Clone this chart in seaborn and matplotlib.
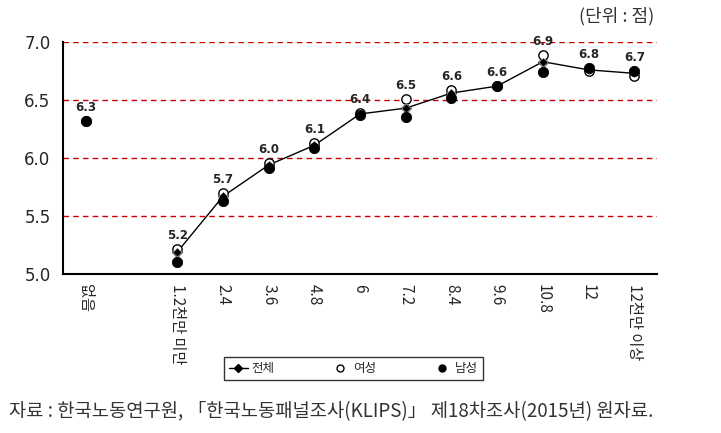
import matplotlib
matplotlib.use('Agg')
import matplotlib.pyplot as plt
import numpy as np
import pandas as pd
import seaborn as sns
from matplotlib.lines import Line2D

# categories (blank slot between '없음' and '1.2천만 미만')
categories = ['없음', '', '1.2천만 미만', '2.4', '3.6', '4.8', '6', '7.2',
              '8.4', '9.6', '10.8', '12', '12천만 이상']
total = [6.32, np.nan, 5.19, 5.67, 5.94, 6.11, 6.38, 6.43, 6.56, 6.62, 6.83, 6.76, 6.73]
women = [6.32, np.nan, 5.22, 5.70, 5.96, 6.13, 6.39, 6.51, 6.59, 6.62, 6.89, 6.75, 6.71]
men = [6.32, np.nan, 5.10, 5.63, 5.91, 6.09, 6.37, 6.35, 6.52, 6.62, 6.74, 6.78, 6.75]
labels = ['6.3', '', '5.2', '5.7', '6.0', '6.1', '6.4', '6.5', '6.6', '6.6', '6.9', '6.8', '6.7']
yticks = [5.0, 5.5, 6.0, 6.5, 7.0]

sns.set_style('white')
plt.rcParams['font.family'] = ['Noto Sans CJK KR', 'DejaVu Sans']
plt.rcParams['axes.unicode_minus'] = False

df = pd.DataFrame({'pos': np.arange(len(categories)), 'total': total,
                   'women': women, 'men': men})

fig = plt.figure(figsize=(7.21, 4.33), dpi=100)
ax = fig.add_axes([0.0874, 0.367, 0.824, 0.536])

# red dashed gridlines
for yv in yticks[1:]:
    ax.axhline(yv, color='#cc0000', lw=1, ls=(0, (4, 3)), zorder=0)

# total line only from 1.2 onwards (no connection across the blank slot)
sns.lineplot(data=df[df['pos'] >= 2], x='pos', y='total', ax=ax, color='black',
             lw=1, marker='D', markersize=5, markeredgecolor='black', zorder=3)
sns.scatterplot(data=df, x='pos', y='women', ax=ax, marker='o', s=45,
                facecolor='white', edgecolor='black', linewidth=1, zorder=4)
sns.scatterplot(data=df[df['pos'] != 0], x='pos', y='total', ax=ax, marker='D', s=22,
                color='black', zorder=5)
sns.scatterplot(data=df, x='pos', y='men', ax=ax, marker='o', s=55,
                color='black', edgecolor='black', zorder=6)

# data labels above the highest marker
for i, lab in enumerate(labels):
    if lab:
        top = np.nanmax([total[i], women[i], men[i]])
        ax.text(i, top + 0.06, lab, ha='center', va='bottom', fontsize=8.5,
                fontweight='bold', family=['DejaVu Sans'])

ax.set_xlim(-0.5, len(categories) - 0.5)
ax.set_ylim(5.0, 7.0)
ax.set_yticks(yticks)
ax.set_yticklabels([f'{v:.1f}' for v in yticks], fontsize=12, family=['DejaVu Sans'])
ax.set_xticks(np.arange(-0.5, len(categories)))
ax.set_xticklabels([])
ax.set_xticks(np.arange(len(categories)), minor=True)
ax.set_xticklabels(categories, minor=True, rotation=270, fontsize=11,
                   va='top', ha='center')
ax.tick_params(axis='x', which='major', direction='out', length=5, width=1.2, color='black')
ax.tick_params(axis='x', which='minor', length=0, pad=7)
ax.tick_params(axis='y', direction='out', length=5, width=1.2, color='black', pad=4)
ax.set_xlabel('')
ax.set_ylabel('')
for side in ['top', 'right']:
    ax.spines[side].set_visible(False)
for side in ['left', 'bottom']:
    ax.spines[side].set_color('black')
    ax.spines[side].set_linewidth(1.5)

handles = [
    Line2D([0], [0], color='black', lw=1, marker='D', markersize=4),
    Line2D([0], [0], color='none', marker='o', markersize=5, markerfacecolor='white',
           markeredgecolor='black'),
    Line2D([0], [0], color='none', marker='o', markersize=5, markerfacecolor='black',
           markeredgecolor='black'),
]
leg = fig.legend(handles, ['전체', '여성', '남성'], loc='center',
                 bbox_to_anchor=(0.49, 0.148), ncol=3, frameon=True, fancybox=False,
                 edgecolor='black', fontsize=9, handlelength=1.5, handletextpad=0.3,
                 columnspacing=4.5, borderpad=0.4)
leg.get_frame().set_linewidth(1)

fig.text(0.908, 0.962, '(단위 : 점)', ha='right', va='center', fontsize=13, color='#333333')
fig.text(0.012, 0.05, '자료 : 한국노동연구원, 「한국노동패널조사(KLIPS)」 제18차조사(2015년) 원자료.',
         ha='left', va='center', fontsize=13.5, color='#333333')

fig.savefig('out.png', dpi=100)
plt.close(fig)
